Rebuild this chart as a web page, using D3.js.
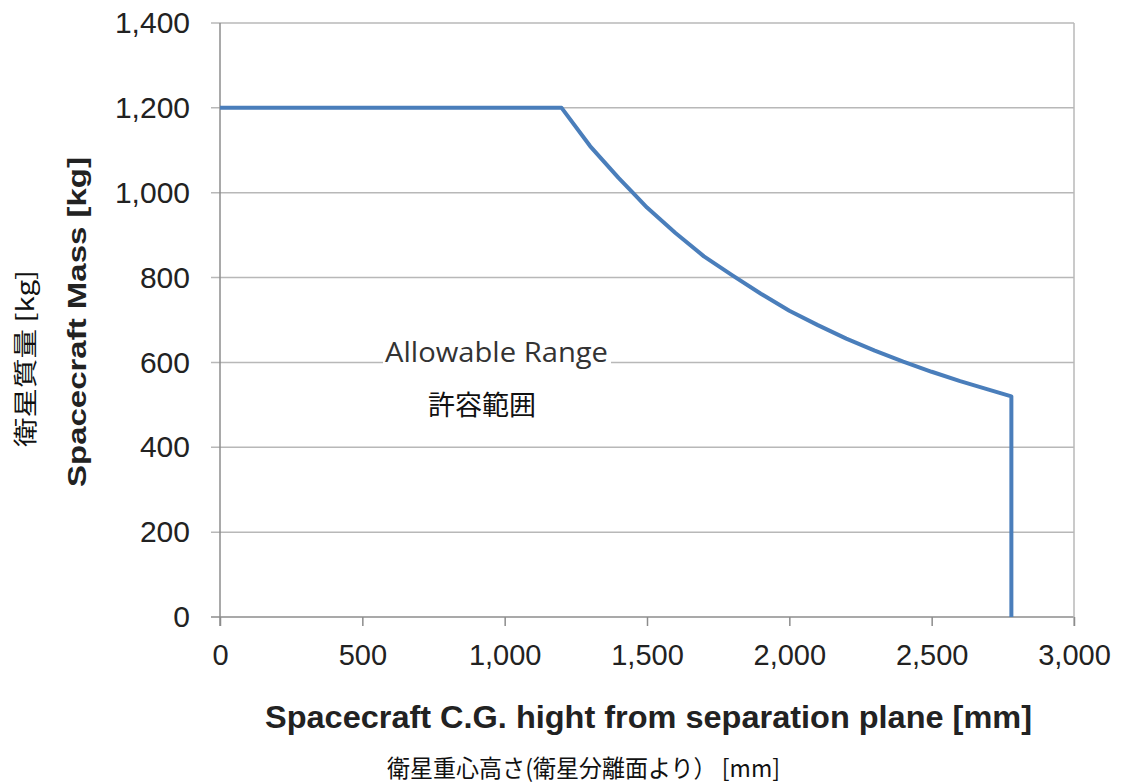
<!DOCTYPE html>
<html>
<head>
<meta charset="utf-8">
<script src="https://cdn.jsdelivr.net/npm/d3@7"></script>
<style>
  body { margin: 0; background: #fff; }
  text { font-family: "Liberation Sans", Arial, sans-serif; }
</style>
</head>
<body>
<div id="chart"></div>
<script>
// Allowable mass vs. C.G. height
const cgHeight = [0, 1200, 1300, 1400, 1450, 1500, 1600, 1700, 1800, 1900, 2000, 2100, 2200, 2300, 2400, 2500, 2600, 2700, 2780, 2780];
const massLimit = [1200, 1200, 1110, 1035, 1000, 965, 905, 850, 805, 762, 722, 688, 656, 628, 602, 578, 556, 536, 520, 0];
const xTicks = [0, 500, 1000, 1500, 2000, 2500, 3000];
const yTicks = [0, 200, 400, 600, 800, 1000, 1200, 1400];

const W = 1122, H = 784;
const margin = { top: 23, right: 48, bottom: 167, left: 220 };

const svg = d3.select("#chart").append("svg")
    .attr("width", W)
    .attr("height", H);

const x = d3.scaleLinear().domain([0, 3000]).range([margin.left, 1074]);
const y = d3.scaleLinear().domain([0, 1400]).range([617, margin.top]);

// Gridlines (extend left as ticks)
svg.append("g")
    .selectAll("line")
    .data(yTicks)
    .join("line")
    .attr("x1", margin.left - 9)
    .attr("x2", x(3000))
    .attr("y1", d => y(d))
    .attr("y2", d => y(d))
    .attr("stroke", d => d === 0 ? "#8c8c8c" : "#b8b8b8")
    .attr("stroke-width", 1.5);

// Y axis line and right border
svg.append("line")
    .attr("x1", x(0)).attr("x2", x(0))
    .attr("y1", y(1400)).attr("y2", y(0) + 9)
    .attr("stroke", "#8c8c8c").attr("stroke-width", 1.5);
svg.append("line")
    .attr("x1", x(3000)).attr("x2", x(3000))
    .attr("y1", y(1400)).attr("y2", y(0) + 9)
    .attr("stroke", "#b8b8b8").attr("stroke-width", 1.5);

// X axis
const xAxis = svg.append("g")
    .attr("transform", `translate(0,${y(0)})`)
    .call(d3.axisBottom(x).tickValues(xTicks).tickFormat(d3.format(",")).tickSize(9).tickPadding(18));
xAxis.select(".domain").remove();
xAxis.selectAll("line").attr("stroke", "#8c8c8c").attr("stroke-width", 1.5);
xAxis.selectAll("text").attr("font-size", 29).attr("fill", "#222");

// Y axis labels
const yAxis = svg.append("g")
    .attr("transform", `translate(${x(0)},0)`)
    .call(d3.axisLeft(y).tickValues(yTicks).tickFormat(d3.format(",")).tickSize(0).tickPadding(30));
yAxis.select(".domain").remove();
yAxis.selectAll("text").attr("font-size", 30).attr("fill", "#222");

// Limit curve
const line = d3.line()
    .x((d, i) => x(cgHeight[i]))
    .y(d => y(d));
svg.append("path")
    .datum(massLimit)
    .attr("d", line)
    .attr("fill", "none")
    .attr("stroke", "#4a7ebb")
    .attr("stroke-width", 4)
    .attr("stroke-linejoin", "round");

// Annotations
svg.append("rect")
    .attr("x", 383).attr("y", 338)
    .attr("width", 228).attr("height", 26)
    .attr("fill", "#fff");
svg.append("text")
    .attr("x", 385).attr("y", 362)
    .attr("font-size", 27)
    .attr("fill", "#333")
    .attr("textLength", 223)
    .attr("lengthAdjust", "spacingAndGlyphs")
    .style("font-family", "'Open Sans', sans-serif")
    .text("Allowable Range");
svg.append("text")
    .attr("x", 482).attr("y", 415)
    .attr("text-anchor", "middle")
    .attr("font-size", 27)
    .attr("fill", "#111")
    .style("font-family", "'Noto Sans CJK JP', sans-serif")
    .text("許容範囲");

// Axis titles
svg.append("text")
    .attr("x", 265).attr("y", 728)
    .attr("font-size", 32)
    .attr("font-weight", "bold")
    .attr("fill", "#222")
    .attr("textLength", 767)
    .attr("lengthAdjust", "spacingAndGlyphs")
    .text("Spacecraft C.G. hight from separation plane [mm]");
svg.append("text")
    .attr("x", 387).attr("y", 777)
    .attr("font-size", 24)
    .attr("fill", "#111")
    .attr("textLength", 393)
    .attr("lengthAdjust", "spacingAndGlyphs")
    .style("font-family", "'Noto Sans CJK JP', sans-serif")
    .text("衛星重心高さ(衛星分離面より） [mm]");

svg.append("text")
    .attr("transform", "translate(86,487) rotate(-90)")
    .attr("font-size", 25)
    .attr("font-weight", "bold")
    .attr("fill", "#222")
    .attr("textLength", 330)
    .attr("lengthAdjust", "spacingAndGlyphs")
    .text("Spacecraft Mass [kg]");
svg.append("text")
    .attr("transform", "translate(34,447) rotate(-90)")
    .attr("font-size", 24)
    .attr("fill", "#111")
    .attr("textLength", 177)
    .attr("lengthAdjust", "spacingAndGlyphs")
    .style("font-family", "'Noto Sans CJK JP', sans-serif")
    .text("衛星質量 [kg]");
</script>
</body>
</html>
